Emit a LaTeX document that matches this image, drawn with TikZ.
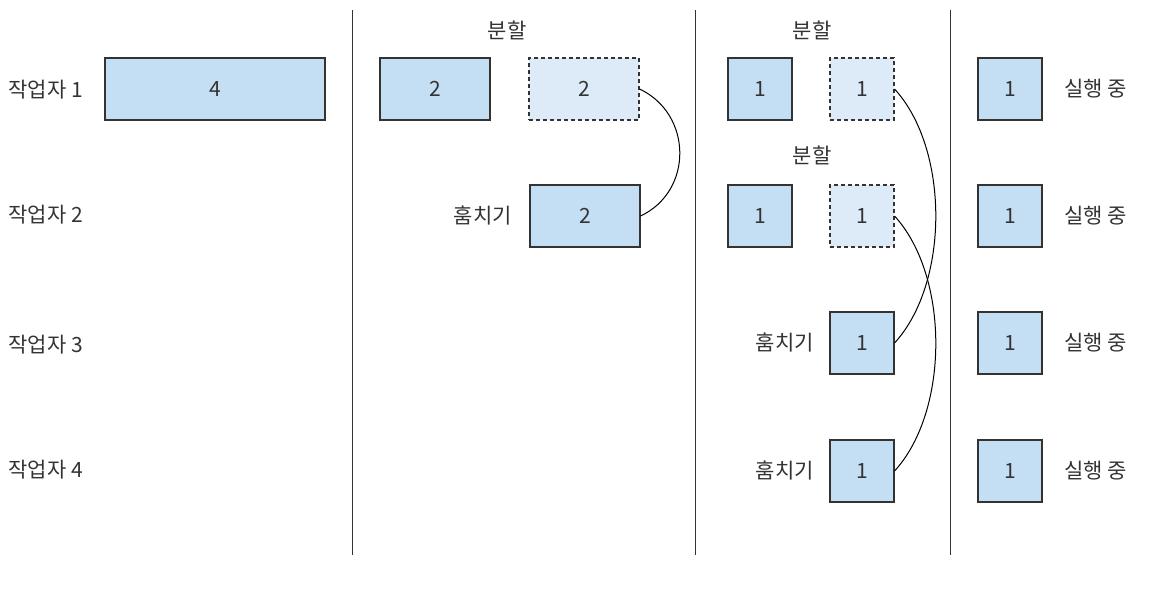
\documentclass[tikz,border=0pt]{standalone}
\usepackage{fontspec}
\setmainfont{Noto Sans CJK KR}
\usetikzlibrary{positioning}
\definecolor{taskblue}{HTML}{C4DEF3}
\definecolor{stolenblue}{HTML}{DDEBF8}
\definecolor{inkgray}{HTML}{333333}

\begin{document}
\begin{tikzpicture}[
  x=1pt,
  y=-1pt,
  every node/.style={
    font=\fontsize{21}{24}\selectfont,
    text=inkgray
  },
  task/.style={
    draw=inkgray,
    fill=taskblue,
    line width=1.1pt,
    minimum height=62pt
  },
  wide task/.style={
    task,
    minimum width=220pt
  },
  half task/.style={
    task,
    minimum width=110pt
  },
  unit task/.style={
    task,
    minimum width=64pt
  },
  split off/.style={
    dash pattern=on 4pt off 3pt,
    fill=stolenblue
  },
  divider/.style={
    inkgray,
    line width=1pt
  },
  steal link/.style={
    draw=black,
    line width=1pt
  },
]
\useasboundingbox (0,0) rectangle (1160,590);

% dividers
\foreach \x in {352,695,950}
  \draw[divider] (\x,10) -- (\x,555);

% workers
\foreach \n/\y in {1/90,2/215,3/345,4/470}
  \node[anchor=west] (worker\n) at (5,\y) {작업자 \n};

% start
\node[wide task] (whole) at (215,89) {4};

% first split
\node at (507,30) {분할};
\node[half task] (halfkeep) at (435,89) {2};
\node[half task,split off] (halfsplit) at (584,89) {2};
\node[half task] (halfsteal) at (585,216) {2};
\node[left=14pt of halfsteal] (stealA) {훔치기};
\draw[steal link] (halfsplit.east) .. controls +(53,25) and +(53,-25) .. (halfsteal.east);

% second split
\node at (812,30) {분할};
\node at (812,155) {분할};
\node[unit task] (keepA) at (760,89) {1};
\node[unit task,split off] (splitA) at (862,89) {1};
\node[unit task] (keepB) at (760,216) {1};
\node[unit task,split off] (splitB) at (862,216) {1};
\node[unit task] (stealC) at (862,343) {1};
\node[unit task] (stealD) at (862,471) {1};
\node[left=12pt of stealC] (stealB) {훔치기};
\node[left=12pt of stealD] (stealE) {훔치기};
\draw[steal link] (splitA.east) .. controls +(55,60) and +(55,-60) .. (stealC.east);
\draw[steal link] (splitB.east) .. controls +(55,60) and +(55,-60) .. (stealD.east);

% running
\foreach \n/\y in {1/89,2/216,3/343,4/471} {
  \node[unit task] (run\n) at (1010,\y) {1};
  \node[right=18pt of run\n] (runlabel\n) {실행 중};
}
\end{tikzpicture}
\end{document}
